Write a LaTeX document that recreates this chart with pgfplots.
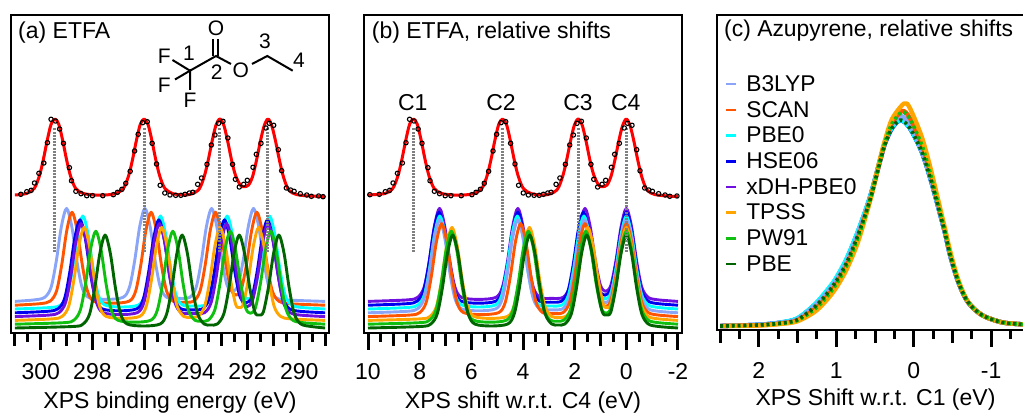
\documentclass[border=0pt]{standalone}
\usepackage{pgfplots}
\pgfplotsset{compat=1.18}
\usepackage{fontspec}
\setmainfont{Liberation Sans}
\definecolor{cB}{HTML}{8AA4F8}
\definecolor{cS}{HTML}{FF5500}
\definecolor{cP}{HTML}{00FFFF}
\definecolor{cH}{HTML}{0000F0}
\definecolor{cX}{HTML}{7010E0}
\definecolor{cT}{HTML}{FFA500}
\definecolor{cW}{HTML}{10C010}
\definecolor{cE}{HTML}{006400}
\newcommand{\fs}{\fontsize{23}{26}\selectfont}
\pgfplotsset{panel/.style={scale only axis,axis line style={line width=2.6pt},ymin=0,ytick=\empty,
 tick align=outside,major tick length=17pt,minor tick length=9pt,xtick pos=lower,
 every tick/.style={line width=3pt,black},
 major tick style={line width=3pt,black},minor tick style={line width=3pt,black},
 tick label style={font=\fs},xticklabel style={yshift=-10pt},
 x label style={at={(axis description cs:0.5,-0.22)},anchor=center},
 extra x tick style={major tick length=13pt,tick style={line width=3pt,black}},extra x tick labels={},
 every axis plot/.append style={line join=round}},
 sim/.style={smooth,line width=2.9pt,no marks},
 fit/.style={smooth,red,line width=3pt,no marks},
 dots/.style={only marks,mark=o,mark size=2.2pt,mark options={black,line width=1.1pt}},
 drop/.style={color=gray,line width=3pt,dash pattern=on 2pt off 1.2pt,no marks},
 lc/.style={smooth,line width=4.4pt,no marks,forget plot},
 ld/.style={smooth,line width=3.6pt,no marks,forget plot,dash pattern=on 2.9pt off 2.9pt}}
\begin{document}
\begin{tikzpicture}[x=1pt,y=1pt]
\useasboundingbox (0,0) rectangle (1023,414);
% ---------- panel a
\begin{axis}[panel,at={(11pt,81pt)},anchor=south west,width=318pt,height=318pt,ymax=318,
 x dir=reverse,xmin=288.85,xmax=301.15,
 xtick={300,298,296,294,292,290},xticklabels={300,298,296,294,292,290},
 extra x ticks={301,299,297,295,293,291,289},
 minor xtick={300.5,299.5,298.5,297.5,296.5,295.5,294.5,293.5,292.5,291.5,290.5,289.5},
 xlabel={\fs XPS binding energy (eV)}]
\addplot[sim,cB] coordinates {(301,31.6)(300.25,33.1)(299.85,35.6)(299.6,45.6)(299.4,71.6)(299.2,106.6)(299,124.6)(298.8,106.6)(298.6,71.6)(298.4,45.6)(298.15,35.6)(297.49,33.6)(296.82,35.6)(296.57,45.6)(296.37,71.6)(296.17,106.6)(295.97,124.6)(295.77,106.6)(295.57,71.6)(295.37,45.6)(295.12,35.6)(294.68,34.6)(294.24,35.6)(293.99,45.6)(293.79,71.6)(293.59,106.6)(293.39,124.6)(293.19,106.6)(292.99,72.6)(292.79,47.6)(292.58,41.6)(292.37,47.6)(292.17,72.6)(291.97,106.6)(291.77,124.6)(291.57,106.6)(291.37,71.6)(291.17,45.6)(290.92,35.6)(290.52,33.1)(289,31.6)};
\addplot[sim,cS] coordinates {(301,27.8)(300.04,29.3)(299.64,31.8)(299.39,41.8)(299.19,67.8)(298.99,102.8)(298.79,120.8)(298.59,102.8)(298.39,67.8)(298.19,41.8)(297.94,31.8)(297.26,29.8)(296.58,31.8)(296.33,41.8)(296.13,67.8)(295.93,102.8)(295.73,120.8)(295.53,102.8)(295.33,67.8)(295.13,41.8)(294.88,31.8)(294.49,30.8)(294.09,31.8)(293.84,41.8)(293.64,67.8)(293.44,102.8)(293.24,120.8)(293.04,102.8)(292.84,68.8)(292.64,43.8)(292.44,37.8)(292.24,43.8)(292.04,68.8)(291.84,102.8)(291.64,120.8)(291.44,102.8)(291.24,67.8)(291.04,41.8)(290.79,31.8)(290.39,29.3)(289,27.8)};
\addplot[sim,cP] coordinates {(301,24)(299.62,25.5)(299.22,28)(298.97,38)(298.77,64)(298.57,99)(298.37,117)(298.17,99)(297.97,64)(297.77,38)(297.52,28)(296.87,26)(296.22,28)(295.97,38)(295.77,64)(295.57,99)(295.37,117)(295.17,99)(294.97,64)(294.77,38)(294.52,28)(294.08,27)(293.64,28)(293.39,38)(293.19,64)(292.99,99)(292.79,117)(292.59,99)(292.39,65)(292.19,40)(291.97,34)(291.75,40)(291.55,65)(291.35,99)(291.15,117)(290.95,99)(290.75,64)(290.55,38)(290.3,28)(289.9,25.5)(289,24)};
\addplot[sim,cH] coordinates {(301,20.2)(299.73,21.7)(299.33,24.2)(299.08,34.2)(298.88,60.2)(298.68,95.2)(298.48,113.2)(298.28,95.2)(298.08,60.2)(297.88,34.2)(297.63,24.2)(296.96,22.2)(296.28,24.2)(296.03,34.2)(295.83,60.2)(295.63,95.2)(295.43,113.2)(295.23,95.2)(295.03,60.2)(294.83,34.2)(294.58,24.2)(294.16,23.2)(293.74,24.2)(293.49,34.2)(293.29,60.2)(293.09,95.2)(292.89,113.2)(292.69,95.2)(292.49,61.2)(292.29,36.2)(292.06,30.2)(291.83,36.2)(291.63,61.2)(291.43,95.2)(291.23,113.2)(291.03,95.2)(290.83,60.2)(290.63,34.2)(290.38,24.2)(289.98,21.7)(289,20.2)};
\addplot[sim,cX] coordinates {(301,16.4)(299.69,17.9)(299.29,20.4)(299.04,30.4)(298.84,56.4)(298.64,91.4)(298.44,109.4)(298.24,91.4)(298.04,56.4)(297.84,30.4)(297.59,20.4)(296.93,18.4)(296.26,20.4)(296.01,30.4)(295.81,56.4)(295.61,91.4)(295.41,109.4)(295.21,91.4)(295.01,56.4)(294.81,30.4)(294.56,20.4)(294.11,19.4)(293.66,20.4)(293.41,30.4)(293.21,56.4)(293.01,91.4)(292.81,109.4)(292.61,91.4)(292.41,57.4)(292.21,32.4)(292.01,26.4)(291.81,32.4)(291.61,57.4)(291.41,91.4)(291.21,109.4)(291.01,91.4)(290.81,56.4)(290.61,30.4)(290.36,20.4)(289.96,17.9)(289,16.4)};
\addplot[sim,cT] coordinates {(301,12.6)(299.57,14.1)(299.17,16.6)(298.92,26.6)(298.72,52.6)(298.52,87.6)(298.32,105.6)(298.12,87.6)(297.92,52.6)(297.72,26.6)(297.47,16.6)(296.82,14.6)(296.17,16.6)(295.92,26.6)(295.72,52.6)(295.52,87.6)(295.32,105.6)(295.12,87.6)(294.92,52.6)(294.72,26.6)(294.47,16.6)(294.19,15.6)(293.91,16.6)(293.66,26.6)(293.46,52.6)(293.26,87.6)(293.06,105.6)(292.86,87.6)(292.66,53.6)(292.46,28.6)(292.32,25.6)(292.17,28.6)(291.97,53.6)(291.77,87.6)(291.57,105.6)(291.37,87.6)(291.17,52.6)(290.97,26.6)(290.72,16.6)(290.32,14.1)(289,12.6)};
\addplot[sim,cW] coordinates {(301,8.8)(299.12,10.3)(298.72,12.8)(298.47,22.8)(298.27,48.8)(298.07,83.8)(297.87,101.8)(297.67,83.8)(297.47,48.8)(297.27,22.8)(297.02,12.8)(296.38,10.8)(295.74,12.8)(295.49,22.8)(295.29,48.8)(295.09,83.8)(294.89,101.8)(294.69,83.8)(294.49,48.8)(294.29,22.8)(294.04,12.8)(293.78,11.8)(293.52,12.8)(293.27,22.8)(293.07,48.8)(292.87,83.8)(292.67,101.8)(292.47,83.8)(292.27,49.8)(292.07,24.8)(291.89,19.8)(291.7,24.8)(291.5,49.8)(291.3,83.8)(291.1,101.8)(290.9,83.8)(290.7,48.8)(290.5,22.8)(290.25,12.8)(289.85,10.3)(289,8.8)};
\addplot[sim,cE] coordinates {(301,5)(298.76,6.5)(298.36,9)(298.11,19)(297.91,45)(297.71,80)(297.51,98)(297.31,80)(297.11,45)(296.91,19)(296.66,9)(296.02,7)(295.38,9)(295.13,19)(294.93,45)(294.73,80)(294.53,98)(294.33,80)(294.13,45)(293.93,19)(293.68,9)(293.43,8)(293.17,9)(292.92,19)(292.72,45)(292.52,80)(292.32,98)(292.12,80)(291.92,46)(291.72,21)(291.56,18)(291.39,21)(291.19,46)(290.99,80)(290.79,98)(290.59,80)(290.39,45)(290.19,19)(289.94,9)(289.54,6.5)(289,5)};
\addplot[drop] coordinates {(299.45,81)(299.45,205)};
\addplot[drop] coordinates {(296.0,81)(296.0,205)};
\addplot[drop] coordinates {(293.07,81)(293.07,205)};
\addplot[drop] coordinates {(291.21,81)(291.21,205)};
\addplot[fit] coordinates {(301,138)(300.55,139.5)(300.25,144.6)(300.05,157.3)(299.9,173.3)(299.75,192.5)(299.6,208.6)(299.45,214)(299.3,208.6)(299.15,192.5)(299,173.3)(298.85,157.3)(298.65,144.6)(298.35,139.5)(297.9,138)(297.5,138)(297.1,139.5)(296.8,144.6)(296.6,157.3)(296.45,173.3)(296.3,192.5)(296.15,208.6)(296,214)(295.85,208.6)(295.7,192.5)(295.55,173.3)(295.4,157.3)(295.2,144.6)(294.9,139.5)(294.5,138)(294.17,139)(293.87,144)(293.67,157)(293.52,173)(293.37,192)(293.22,208)(293.07,214)(292.92,208)(292.77,192)(292.62,173)(292.47,158)(292.27,147.5)(292.12,146.3)(291.96,148)(291.81,156)(291.66,172)(291.51,191)(291.36,207)(291.21,214)(291.06,207)(290.91,191)(290.76,172)(290.61,156)(290.41,143)(290.11,138.5)(289.6,137)(289,136.5)};
\addplot[dots] coordinates {(300.77,138.7)(300.54,141.3)(300.37,142.7)(300.24,150)(300.07,159.7)(299.88,170)(299.74,190.3)(299.6,213.7)(299.43,212)(299.27,204)(299.12,189.7)(298.89,165.3)(298.81,152.3)(298.64,141.7)(298.44,139.3)(298.22,137.3)(298,137.3)(297.6,137.3)(297.19,138.3)(297.03,140.7)(296.86,143.7)(296.71,149.7)(296.54,161.7)(296.37,182)(296.23,198.7)(296.06,210.3)(295.88,211.3)(295.69,189.7)(295.52,169)(295.38,147.7)(295.2,140)(295,138)(294.78,137.7)(294.58,137.7)(294.42,138.7)(294.25,140)(294.12,140.7)(293.93,148.7)(293.78,155)(293.57,168.7)(293.4,188)(293.26,198)(293.12,209.7)(292.95,211.7)(292.76,195)(292.58,168.7)(292.47,153.7)(292.32,146)(292.15,148.7)(292.01,152.7)(291.79,165.7)(291.66,178.7)(291.48,189.7)(291.29,205)(291.16,209.7)(290.99,207.7)(290.81,183.3)(290.68,162.3)(290.5,145)(290.34,143)(290.2,141.7)(289.96,139.3)(289.71,138)(289.53,136.7)(289.25,137)(289.08,136.3)};
\end{axis}
% ---------- panel b
\begin{axis}[panel,at={(364pt,81pt)},anchor=south west,width=318pt,height=318pt,ymax=318,
 x dir=reverse,xmin=-2.155,xmax=10.155,
 xtick={10,8,6,4,2,0,-2},xticklabels={10,8,6,4,2,0,-2},
 extra x ticks={9,7,5,3,1,-1},
 minor xtick={9.5,8.5,7.5,6.5,5.5,4.5,3.5,2.5,1.5,0.5,-0.5,-1.5},
 xlabel={\fs XPS shift w.r.t. C4 (eV)}]
\addplot[sim,cX] coordinates {(10,31.6)(8.48,33.1)(8.08,35.6)(7.83,45.6)(7.63,71.6)(7.43,106.6)(7.23,124.6)(7.03,106.6)(6.83,71.6)(6.63,45.6)(6.38,35.6)(5.72,33.6)(5.05,35.6)(4.8,45.6)(4.6,71.6)(4.4,106.6)(4.2,124.6)(4,106.6)(3.8,71.6)(3.6,45.6)(3.35,35.6)(2.9,34.6)(2.45,35.6)(2.2,45.6)(2,71.6)(1.8,106.6)(1.6,124.6)(1.4,106.6)(1.2,72.6)(1,47.6)(.8,41.6)(.6,47.6)(.4,72.6)(.2,106.6)(0,124.6)(-.2,106.6)(-.4,71.6)(-.6,45.6)(-.85,35.6)(-1.25,33.1)(-2,31.6)};
\addplot[sim,cH] coordinates {(10,27.8)(8.5,29.3)(8.1,31.8)(7.85,41.8)(7.65,67.8)(7.45,102.8)(7.25,120.8)(7.05,102.8)(6.85,67.8)(6.65,41.8)(6.4,31.8)(5.73,29.8)(5.05,31.8)(4.8,41.8)(4.6,67.8)(4.4,102.8)(4.2,120.8)(4,102.8)(3.8,67.8)(3.6,41.8)(3.35,31.8)(2.93,30.8)(2.51,31.8)(2.26,41.8)(2.06,67.8)(1.86,102.8)(1.66,120.8)(1.46,102.8)(1.26,68.8)(1.06,43.8)(.83,37.8)(.6,43.8)(.4,68.8)(.2,102.8)(0,120.8)(-.2,102.8)(-.4,67.8)(-.6,41.8)(-.85,31.8)(-1.25,29.3)(-2,27.8)};
\addplot[sim,cP] coordinates {(10,24)(8.47,25.5)(8.07,28)(7.82,38)(7.62,64)(7.42,99)(7.22,117)(7.02,99)(6.82,64)(6.62,38)(6.37,28)(5.72,26)(5.07,28)(4.82,38)(4.62,64)(4.42,99)(4.22,117)(4.02,99)(3.82,64)(3.62,38)(3.37,28)(2.93,27)(2.49,28)(2.24,38)(2.04,64)(1.84,99)(1.64,117)(1.44,99)(1.24,65)(1.04,40)(.82,34)(.6,40)(.4,65)(.2,99)(0,117)(-.2,99)(-.4,64)(-.6,38)(-.85,28)(-1.25,25.5)(-2,24)};
\addplot[sim,cB] coordinates {(10,20.2)(8.48,21.7)(8.08,24.2)(7.83,34.2)(7.63,60.2)(7.43,95.2)(7.23,113.2)(7.03,95.2)(6.83,60.2)(6.63,34.2)(6.38,24.2)(5.72,22.2)(5.05,24.2)(4.8,34.2)(4.6,60.2)(4.4,95.2)(4.2,113.2)(4,95.2)(3.8,60.2)(3.6,34.2)(3.35,24.2)(2.91,23.2)(2.47,24.2)(2.22,34.2)(2.02,60.2)(1.82,95.2)(1.62,113.2)(1.42,95.2)(1.22,61.2)(1.02,36.2)(.81,30.2)(.6,36.2)(.4,61.2)(.2,95.2)(0,113.2)(-.2,95.2)(-.4,60.2)(-.6,34.2)(-.85,24.2)(-1.25,21.7)(-2,20.2)};
\addplot[sim,cS] coordinates {(10,16.4)(8.4,17.9)(8,20.4)(7.75,30.4)(7.55,56.4)(7.35,91.4)(7.15,109.4)(6.95,91.4)(6.75,56.4)(6.55,30.4)(6.3,20.4)(5.62,18.4)(4.94,20.4)(4.69,30.4)(4.49,56.4)(4.29,91.4)(4.09,109.4)(3.89,91.4)(3.69,56.4)(3.49,30.4)(3.24,20.4)(2.85,19.4)(2.45,20.4)(2.2,30.4)(2,56.4)(1.8,91.4)(1.6,109.4)(1.4,91.4)(1.2,57.4)(1,32.4)(.8,26.4)(.6,32.4)(.4,57.4)(.2,91.4)(0,109.4)(-.2,91.4)(-.4,56.4)(-.6,30.4)(-.85,20.4)(-1.25,17.9)(-2,16.4)};
\addplot[sim,cT] coordinates {(10,12.6)(8,14.1)(7.6,16.6)(7.35,26.6)(7.15,52.6)(6.95,87.6)(6.75,105.6)(6.55,87.6)(6.35,52.6)(6.15,26.6)(5.9,16.6)(5.25,14.6)(4.6,16.6)(4.35,26.6)(4.15,52.6)(3.95,87.6)(3.75,105.6)(3.55,87.6)(3.35,52.6)(3.15,26.6)(2.9,16.6)(2.62,15.6)(2.34,16.6)(2.09,26.6)(1.89,52.6)(1.69,87.6)(1.49,105.6)(1.29,87.6)(1.09,53.6)(.89,28.6)(.745,25.6)(.6,28.6)(.4,53.6)(.2,87.6)(0,105.6)(-.2,87.6)(-.4,52.6)(-.6,26.6)(-.85,16.6)(-1.25,14.1)(-2,12.6)};
\addplot[sim,cW] coordinates {(10,8.8)(8.02,10.3)(7.62,12.8)(7.37,22.8)(7.17,48.8)(6.97,83.8)(6.77,101.8)(6.57,83.8)(6.37,48.8)(6.17,22.8)(5.92,12.8)(5.28,10.8)(4.64,12.8)(4.39,22.8)(4.19,48.8)(3.99,83.8)(3.79,101.8)(3.59,83.8)(3.39,48.8)(3.19,22.8)(2.94,12.8)(2.68,11.8)(2.42,12.8)(2.17,22.8)(1.97,48.8)(1.77,83.8)(1.57,101.8)(1.37,83.8)(1.17,49.8)(.97,24.8)(.785,19.8)(.6,24.8)(.4,49.8)(.2,83.8)(0,101.8)(-.2,83.8)(-.4,48.8)(-.6,22.8)(-.85,12.8)(-1.25,10.3)(-2,8.8)};
\addplot[sim,cE] coordinates {(10,5)(7.97,6.5)(7.57,9)(7.32,19)(7.12,45)(6.92,80)(6.72,98)(6.52,80)(6.32,45)(6.12,19)(5.87,9)(5.23,7)(4.59,9)(4.34,19)(4.14,45)(3.94,80)(3.74,98)(3.54,80)(3.34,45)(3.14,19)(2.89,9)(2.64,8)(2.38,9)(2.13,19)(1.93,45)(1.73,80)(1.53,98)(1.33,80)(1.13,46)(.93,21)(.765,18)(.6,21)(.4,46)(.2,80)(0,98)(-.2,80)(-.4,45)(-.6,19)(-.85,9)(-1.25,6.5)(-2,5)};
\addplot[drop] coordinates {(8.25,81)(8.25,205)};
\addplot[drop] coordinates {(4.8,81)(4.8,205)};
\addplot[drop] coordinates {(1.87,81)(1.87,205)};
\addplot[drop] coordinates {(0,81)(0,205)};
\addplot[fit] coordinates {(10,138)(9.34,139.5)(9.04,144.6)(8.84,157.3)(8.69,173.3)(8.54,192.5)(8.39,208.6)(8.24,214)(8.09,208.6)(7.94,192.5)(7.79,173.3)(7.64,157.3)(7.44,144.6)(7.14,139.5)(6.69,138)(6.29,138)(5.89,139.5)(5.59,144.6)(5.39,157.3)(5.24,173.3)(5.09,192.5)(4.94,208.6)(4.79,214)(4.64,208.6)(4.49,192.5)(4.34,173.3)(4.19,157.3)(3.99,144.6)(3.69,139.5)(3.29,138)(2.96,139)(2.66,144)(2.46,157)(2.31,173)(2.16,192)(2.01,208)(1.86,214)(1.71,208)(1.56,192)(1.41,173)(1.26,158)(1.06,147.5)(.91,146.3)(.75,148)(.6,156)(.45,172)(.3,191)(.15,207)(0,214)(-.15,207)(-.3,191)(-.45,172)(-.6,156)(-.8,143)(-1.1,138.5)(-1.61,137)(-2,136.5)};
\addplot[dots] coordinates {(9.93,138.3)(9.56,138.7)(9.33,141.3)(9.16,142.7)(9.03,150)(8.86,159.7)(8.67,170)(8.53,190.3)(8.39,213.7)(8.22,212)(8.06,204)(7.91,189.7)(7.68,165.3)(7.6,152.3)(7.43,141.7)(7.23,139.3)(7.01,137.3)(6.79,137.3)(6.39,137.3)(5.98,138.3)(5.82,140.7)(5.65,143.7)(5.5,149.7)(5.33,161.7)(5.16,182)(5.02,198.7)(4.85,210.3)(4.67,211.3)(4.48,189.7)(4.31,169)(4.17,147.7)(3.99,140)(3.79,138)(3.57,137.7)(3.37,137.7)(3.21,138.7)(3.04,140)(2.91,140.7)(2.72,148.7)(2.57,155)(2.36,168.7)(2.19,188)(2.05,198)(1.91,209.7)(1.74,211.7)(1.55,195)(1.37,168.7)(1.26,153.7)(1.11,146)(.94,148.7)(.8,152.7)(.58,165.7)(.45,178.7)(.27,189.7)(.08,205)(-.05,209.7)(-.22,207.7)(-.4,183.3)(-.53,162.3)(-.71,145)(-.87,143)(-1.01,141.7)(-1.25,139.3)(-1.5,138)(-1.68,136.7)(-1.96,137)};
\end{axis}
% ---------- panel c
\begin{axis}[panel,at={(717pt,84pt)},anchor=south west,width=317pt,height=315pt,ymax=315,
 axis line style={line width=2.3pt},xticklabel style={yshift=-2pt},
 x dir=reverse,xmin=-1.554,xmax=2.541,
 xtick={2,1,0,-1},xticklabels={2,1,0,-1},
 extra x ticks={2.5,1.5,0.5,-0.5,-1.5},
 minor xtick={2.25,1.75,1.25,0.75,0.25,-0.25,-0.75,-1.25},
 xlabel={\fs XPS Shift w.r.t. C1 (eV)},
 legend image code/.code={\draw[#1,line width=2.6pt] (0pt,0pt) -- (10pt,0pt);\path (18pt,0pt);},
 legend style={draw=none,fill=none,at={(0.024,0.815)},anchor=north west,inner sep=0pt,
   font=\fontsize{22.8}{26}\selectfont,row sep=4.3pt,
   cells={anchor=west}},
 legend entries={B3LYP,SCAN,PBE0,HSE06,xDH-PBE0,TPSS,PW91,PBE}]
\addlegendimage{cB}\addlegendimage{cS}\addlegendimage{cP}\addlegendimage{cH}\addlegendimage{cX}\addlegendimage{cT}\addlegendimage{cW}\addlegendimage{cE}
\addplot[lc,cX] coordinates {(2.5,4)(2,5.2)(1.73,7.2)(1.51,11)(1.3,23.5)(1.17,34)(1.02,49)(.87,70)(.72,98)(.565,132.5)(.435,169.5)(.37,187)(.28,202)(.17,210)(.05,202)(-.1,179)(-.21,153)(-.31,125)(-.405,97)(-.47,75)(-.576,48)(-.7,28)(-.88,15)(-1.137,7.7)(-1.395,5.7)(-1.6,4.5)};
\addplot[lc,cH] coordinates {(2.5,4)(2,5.2)(1.73,7.2)(1.51,11)(1.3,23.5)(1.17,34)(1.02,49)(.87,70)(.72,98)(.565,132.5)(.435,169.5)(.37,187)(.28,202)(.17,210)(.05,202)(-.1,179)(-.21,153)(-.31,125)(-.405,97)(-.47,75)(-.576,48)(-.7,28)(-.88,15)(-1.137,7.7)(-1.395,5.7)(-1.6,4.5)};
\addplot[lc,cP] coordinates {(2.5,4)(2,5.3)(1.73,7.4)(1.51,11.5)(1.3,24)(1.17,35)(1.02,50)(.87,71)(.72,99)(.565,133)(.435,170)(.37,187.5)(.28,202.5)(.17,210)(.05,202)(-.1,179)(-.21,153)(-.31,125)(-.405,97)(-.47,75)(-.576,48)(-.7,28)(-.88,15)(-1.137,7.7)(-1.395,5.7)(-1.6,4.5)};
\addplot[lc,cB] coordinates {(2.5,4)(2,5.2)(1.73,7)(1.51,10.5)(1.3,22.7)(1.17,32.7)(1.02,47.7)(.87,67.7)(.72,96)(.565,131)(.435,169)(.37,188)(.28,205)(.165,214)(.05,205)(-.1,181)(-.21,154)(-.31,125.5)(-.405,97)(-.47,75)(-.576,48)(-.7,28)(-.88,15)(-1.137,7.7)(-1.395,5.7)(-1.6,4.5)};
\addplot[lc,cS] coordinates {(2.5,4)(2,4.8)(1.73,6.4)(1.51,9.3)(1.3,19.5)(1.17,29)(1.02,43.5)(.87,63.5)(.72,92)(.565,129.5)(.435,169.5)(.37,188)(.28,207)(.15,219)(.05,212)(-.1,186.5)(-.21,158.5)(-.31,128.5)(-.405,99)(-.47,77)(-.576,49)(-.7,28)(-.88,15)(-1.137,7.7)(-1.395,5.7)(-1.6,4.5)};
\addplot[lc,cT] coordinates {(2.5,4)(2,4.5)(1.73,6)(1.51,8.5)(1.3,17)(1.17,26)(1.02,40)(.87,60)(.72,88)(.565,129)(.435,171)(.37,190)(.28,211)(.125,226.5)(.05,222)(-.1,194)(-.21,164)(-.31,132)(-.405,101)(-.47,79)(-.576,50)(-.7,28.5)(-.88,15)(-1.137,7.7)(-1.395,5.7)(-1.6,4.5)};
\addplot[ld,cW] coordinates {(2.5,4)(2,4.8)(1.73,6.4)(1.51,9.3)(1.3,19.5)(1.17,29)(1.02,43.5)(.87,63.5)(.72,92)(.565,129.5)(.435,169.5)(.37,188)(.28,206.5)(.15,218)(.05,211)(-.1,186)(-.21,158)(-.31,128)(-.405,98.5)(-.47,76.5)(-.576,49)(-.7,28)(-.88,15)(-1.137,7.7)(-1.395,5.7)(-1.6,4.5)};
\addplot[ld,cE] coordinates {(2.5,4)(2,5)(1.73,6.7)(1.51,10)(1.3,21.7)(1.17,31.7)(1.02,46.7)(.87,66.7)(.72,95)(.565,130)(.435,168)(.37,186)(.28,202)(.17,210)(.05,202)(-.1,179)(-.21,153)(-.31,125)(-.405,97)(-.47,75)(-.576,48)(-.7,28)(-.88,15)(-1.137,7.7)(-1.395,5.7)(-1.6,4.5)};
\end{axis}
% ---------- text and molecule, in image pixels
\begin{scope}[shift={(0pt,414pt)},x=1pt,y=-1pt]
\node[anchor=west,inner sep=0pt,font=\fs] at (18,33) {(a) ETFA};
\node[anchor=west,inner sep=0pt,font=\fs] at (371.7,33) {(b) ETFA, relative shifts};
\node[anchor=west,inner sep=0pt,font=\fontsize{22.9}{26}\selectfont] at (724,31) {(c) Azupyrene, relative shifts};
\foreach \t/\x in {C1/412.7,C2/501,C3/578,C4/625.7}{\node[inner sep=0pt,font=\fs] at (\x,103) {\t};}
\draw[line width=2pt] (172.5,60)--(190,70.7)--(216,56)--(231,64);
\draw[line width=2pt] (175,79.5)--(190,70.7)--(190,90);
\draw[line width=2pt] (213.3,56)--(213.3,39.3) (218.3,56)--(218.3,39.3);
\draw[line width=2pt] (252,64)--(267.3,56)--(292.7,70.7);
\foreach \t/\x/\y in {O/216/28,F/164.3/56,F/164.3/85,F/190/100,O/240.7/70.7,1/189/53,2/216.7/71.7,3/265/41,4/299/60.7}{\node[inner sep=0pt,font=\fontsize{21}{24}\selectfont] at (\x,\y) {\t};}
\end{scope}
\end{tikzpicture}
\end{document}
